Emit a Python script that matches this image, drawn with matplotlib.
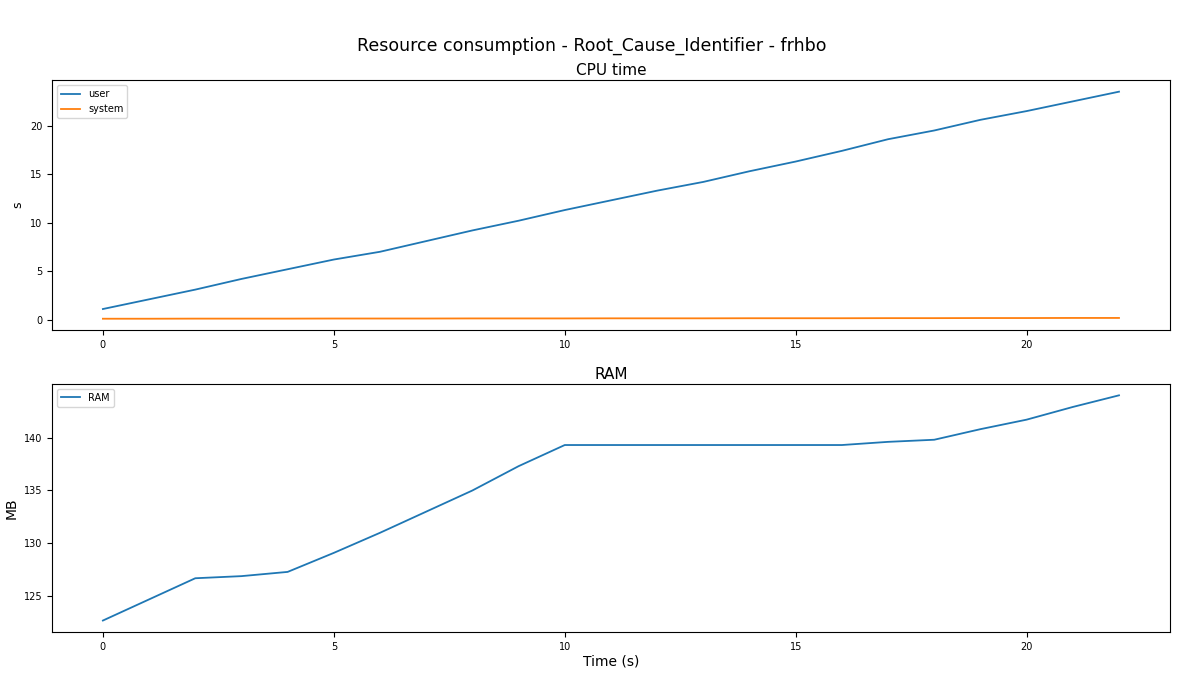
import matplotlib
matplotlib.use("Agg")
import matplotlib.pyplot as plt

time_s = list(range(23))
cpu_user = [1.1, 2.1, 3.1, 4.2, 5.2, 6.2, 7.0, 8.1, 9.2, 10.2, 11.3, 12.3, 13.3, 14.2, 15.3, 16.3, 17.4, 18.6, 19.5, 20.6, 21.5, 22.5, 23.5]
cpu_system = [0.10, 0.10, 0.11, 0.11, 0.11, 0.12, 0.12, 0.12, 0.13, 0.13, 0.13, 0.14, 0.14, 0.14, 0.15, 0.15, 0.15, 0.16, 0.16, 0.17, 0.17, 0.18, 0.18]
ram_mb = [122.7, 124.7, 126.7, 126.9, 127.3, 129.1, 131.0, 133.0, 135.0, 137.3, 139.3, 139.3, 139.3, 139.3, 139.3, 139.3, 139.3, 139.6, 139.8, 140.8, 141.7, 142.9, 144.0]
xticks = [0, 5, 10, 15, 20]

fig = plt.figure(figsize=(11.84, 6.75), dpi=100)
ax1 = fig.add_axes([0.044, 0.511, 0.944, 0.370])
ax2 = fig.add_axes([0.044, 0.064, 0.944, 0.367])

ax1.plot(time_s, cpu_user, label="user", color="#1f77b4", lw=1.3)
ax1.plot(time_s, cpu_system, label="system", color="#ff7f0e", lw=1.3)
ax1.set_title("CPU time", fontsize=11, pad=4)
ax1.set_ylabel("s", fontsize=9)
ax1.set_xticks(xticks)
ax1.tick_params(labelsize=7)
ax1.legend(loc="upper left", fontsize=7)

ax2.plot(time_s, ram_mb, label="RAM", color="#1f77b4", lw=1.3)
ax2.set_title("RAM", fontsize=11, pad=4)
ax2.set_ylabel("MB", fontsize=10)
ax2.set_xlabel("Time (s)", fontsize=10, labelpad=2)
ax2.set_xticks(xticks)
ax2.set_yticks([125, 130, 135, 140])
ax2.tick_params(labelsize=7)
ax2.legend(loc="upper left", fontsize=7)

fig.suptitle("Resource consumption - Root_Cause_Identifier - frhbo", fontsize=12.5, y=0.945)
fig.savefig("out.png", dpi=100)
